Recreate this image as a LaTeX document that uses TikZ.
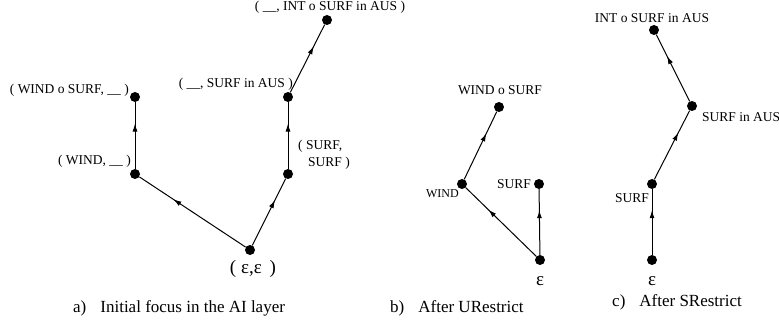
\documentclass[tikz,border=0pt]{standalone}
\usepackage{fontspec}
\setmainfont{Liberation Serif}
\usetikzlibrary{decorations.markings,arrows.meta}
\begin{document}
\begin{tikzpicture}[x=1pt,y=-1pt,
  dot/.style={circle,fill=black,inner sep=0pt,minimum size=10pt},
  lbl/.style={font=\fontsize{13.5}{15}\selectfont,inner sep=0pt},
  smalllbl/.style={font=\fontsize{12}{14}\selectfont,inner sep=0pt},
  epstext/.style={font=\fontsize{19}{19}\selectfont,inner sep=0pt},
  captext/.style={font=\fontsize{17}{19}\selectfont,inner sep=0pt,anchor=base west},
  focusedge/.style={line width=1pt,postaction={decorate},
    decoration={markings,mark=at position 0.68 with {\arrow{Latex[length=8pt,width=5pt]}}}}]
\useasboundingbox (0,0) rectangle (779,323);

% a) initial focus
\node[dot] (a0) at (250,250) {};
\node[dot] (a1) at (135,174) {};
\node[dot] (a2) at (135,97) {};
\node[dot] (a3) at (288,174) {};
\node[dot] (a4) at (288,97) {};
\node[dot] (a5) at (327,20) {};
\draw[focusedge] (a0) -- (a1);
\draw[focusedge] (a1) -- (a2);
\draw[focusedge] (a0) -- (a3);
\draw[focusedge] (a3) -- (a4);
\draw[focusedge] (a4) -- (a5);
\node[lbl,anchor=base] (la5) at (330,11) {( \_\_, INT o SURF in AUS )};
\node[lbl,anchor=base east] (la2) at (129,94) {( WIND o SURF, \_\_ )};
\node[lbl,anchor=base east] (la4) at (293,88) {( \_\_, SURF in AUS )};
\node[lbl,anchor=base west] (la3a) at (298,150) {( SURF,};
\node[lbl,anchor=base west] (la3b) at (308,167) {SURF )};
\node[lbl,anchor=base east] (la1) at (131,165) {( WIND, \_\_ )};
\node[epstext,anchor=base] (la0) at (253,273) {( ε,ε\, )};
\node[captext] (ca) at (73,312) {a)\hspace{14pt}Initial focus in the AI layer};

% b) after URestrict
\node[dot] (b0) at (540,260) {};
\node[dot] (b1) at (462,184) {};
\node[dot] (b2) at (499,107) {};
\node[dot] (b3) at (539,184) {};
\draw[focusedge] (b0) -- (b1);
\draw[focusedge] (b1) -- (b2);
\draw[focusedge] (b0) -- (b3);
\node[lbl,anchor=base] (lb2) at (500,95) {WIND o SURF};
\node[smalllbl,anchor=base east] (lb1) at (459,198) {WIND};
\node[lbl,anchor=base east] (lb3) at (531,189) {SURF};
\node[epstext,anchor=base] (lb0) at (540,285) {ε};
\node[captext] (cb) at (390,312) {b)\hspace{14pt}After URestrict};

% c) after SRestrict
\node[dot] (c0) at (652,260) {};
\node[dot] (c1) at (652,184) {};
\node[dot] (c2) at (692,106) {};
\node[dot] (c3) at (654,30) {};
\draw[focusedge] (c0) -- (c1);
\draw[focusedge] (c1) -- (c2);
\draw[focusedge] (c2) -- (c3);
\node[lbl,anchor=base] (lc3) at (652,23) {INT o SURF in AUS};
\node[lbl,anchor=base west] (lc2) at (702,122) {SURF in AUS};
\node[lbl,anchor=base east] (lc1) at (649,203) {SURF};
\node[epstext,anchor=base] (lc0) at (652,285) {ε};
\node[captext] (cc) at (612,306) {c)\hspace{14pt}After SRestrict};
\end{tikzpicture}
\end{document}
